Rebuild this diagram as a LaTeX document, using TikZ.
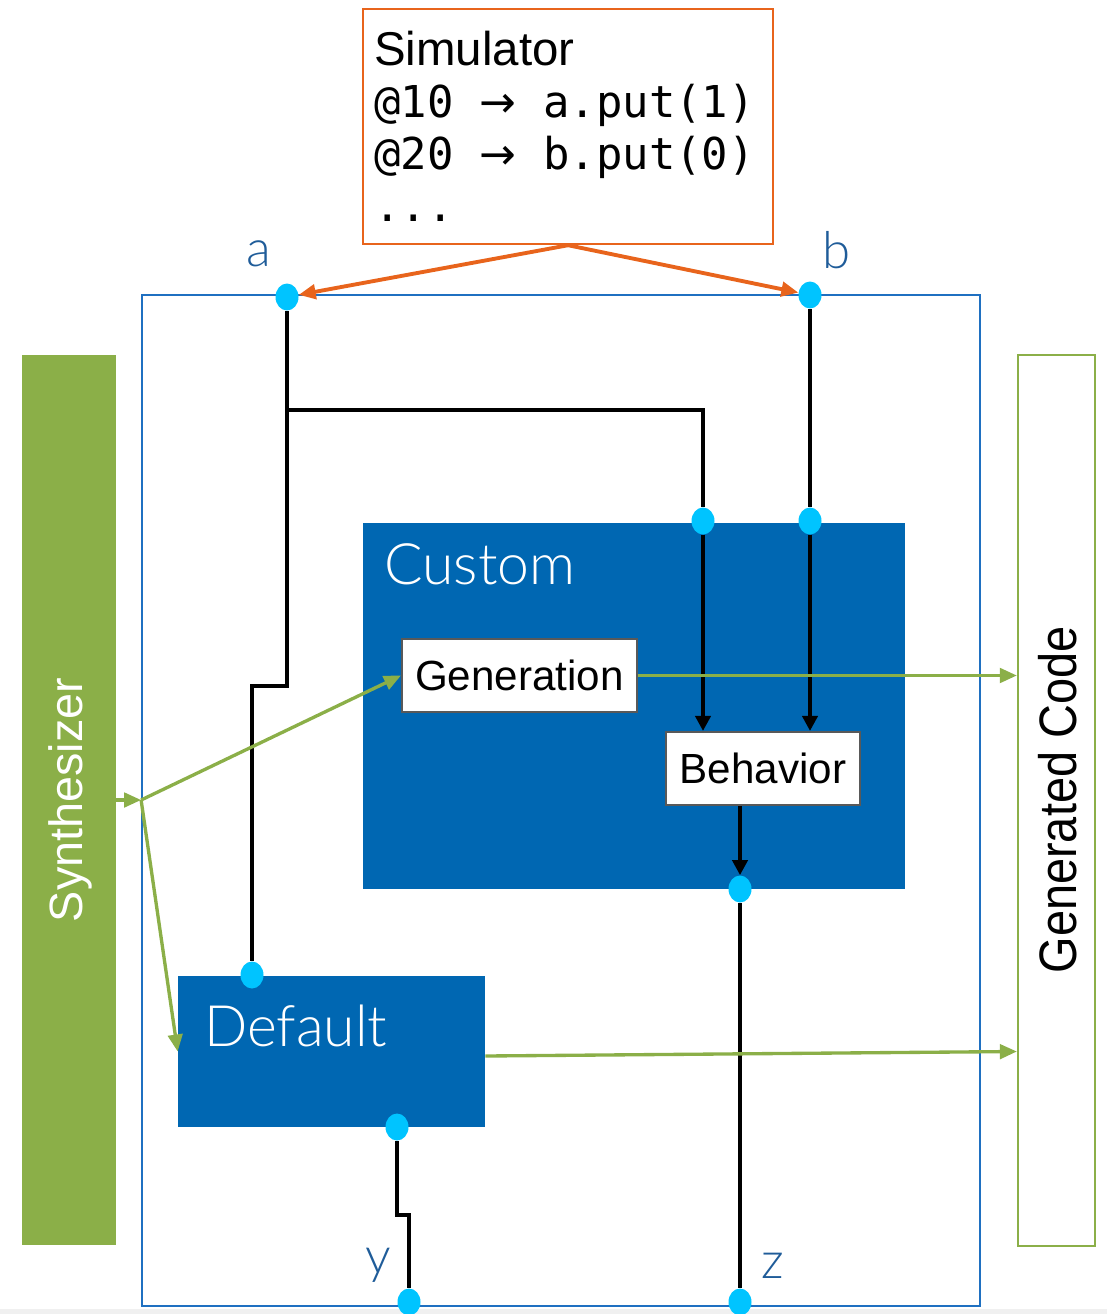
\documentclass[tikz,border=0pt]{standalone}
\usepackage{fontspec}
\setmainfont{Liberation Sans}
\setmonofont{DejaVu Sans Mono}
\newfontfamily\thinfont{Lato Light}
\newfontfamily\arrowfont{DejaVu Sans}
\usetikzlibrary{shapes.geometric, arrows.meta}
\definecolor{simorange}{HTML}{E8641C}
\definecolor{frameblue}{HTML}{1F70C1}
\definecolor{blkblue}{HTML}{0067B2}
\definecolor{portcyan}{HTML}{00C4FF}
\definecolor{synthgreen}{HTML}{8BAF48}
\definecolor{sigblue}{HTML}{1F5C99}
\newcommand\msp{\hspace*{0.53cm}}
\newcommand\thento{\msp{\arrowfont →}\msp}
\pgfdeclarelayer{back}
\pgfdeclarelayer{mid}
\pgfsetlayers{back,mid,main}
\tikzset{
    port/.style={ellipse, fill=portcyan, inner sep=0pt, minimum width=4.6mm, minimum height=5.4mm},
    blk/.style={fill=blkblue, inner sep=0pt}, % custom and default blocks
    blklbl/.style={text=white, inner sep=0pt, font=\thinfont\fontsize{32.5}{36}\selectfont},
    sub/.style={draw=black!65, line width=1.2pt, fill=white, inner sep=0pt, minimum height=1.46cm, font=\fontsize{24}{28}\selectfont},
    side/.style={minimum width=1.88cm, minimum height=17.8cm, inner sep=0pt},
    sig/.style={text=sigblue, inner sep=0pt, font=\thinfont\fontsize{29}{32}\selectfont},
    w/.style={line width=2.6pt, black},
    wa/.style={style=w, -{Triangle[length=3mm, width=3mm]}},
    g/.style={line width=1.9pt, synthgreen, -{Triangle[length=3.4mm, width=2.9mm]}},
    o/.style={line width=2.2pt, simorange, -{Triangle[length=3.4mm, width=2.9mm]}}
}

\begin{document}
\begin{tikzpicture}[x=0.02cm, y=-0.02cm]
        \useasboundingbox (0,0) rectangle (1107,1314);

        \begin{pgfonlayer}{back}
        \fill[black!6] (0,1309) rectangle (1107,1314);
        \node[draw=simorange, line width=1.3pt, anchor=north west, minimum width=8.2cm, minimum height=4.7cm,
              inner xsep=0.22cm, text width=7.76cm, align=left, font=\ttfamily\fontsize{25}{29.6}\selectfont] (sim) at (362,8)
        {{\rmfamily\fontsize{27}{29.6}\selectfont Simulator}\\@10\thento a.put(1)\\@20\thento b.put(0)\\...};
        \node[draw=frameblue, line width=1.1pt, minimum width=16.76cm, minimum height=20.22cm] (frame) at (561,800.5)
        {};
        \node[side, fill=synthgreen] (synth) at (69,800)
        {};
        \node[side, draw=synthgreen, line width=1.3pt, minimum width=1.54cm, minimum height=17.82cm] (gencode) at (1056.5,800.5)
        {};
        \node[blk, minimum width=10.84cm, minimum height=7.32cm] (custom) at (634,706)
        {};
        \node[blk, minimum width=6.14cm, minimum height=3.02cm] (default) at (331.5,1051.5)
        {};
        \end{pgfonlayer}

        \node[rotate=90, text=white, font=\fontsize{26.6}{30}\selectfont] (synthlbl) at (70,800)
        {Synthesizer};
        \node[rotate=90, font=\fontsize{30}{34}\selectfont] (gencodelbl) at (1058,800)
        {\scalebox{0.89}[1]{Generated Code}};
        \node[blklbl, anchor=base west] (customlbl) at (384,584)
        {Custom};
        \node[blklbl, anchor=base west] (defaultlbl) at (204,1046)
        {Default};
        \node[sub, minimum width=4.7cm] (generation) at (519.5,675.5)
        {Generation};
        \node[sub, minimum width=3.88cm] (behavior) at (763,768.5)
        {Behavior};

        \node[port] (pa) at (287,297) {};
        \node[port] (pb) at (810,295) {};
        \node[port] (pc1) at (703,521) {};
        \node[port] (pc2) at (810,521) {};
        \node[port] (pz1) at (740,889) {};
        \node[port] (pd1) at (252,975) {};
        \node[port] (pd2) at (397,1127) {};
        \node[port] (py) at (409,1302) {};
        \node[port] (pz) at (740,1302) {};

        \node[sig] (la) at (259,254) {a};
        \node[sig] (lb) at (837,250) {b};
        \node[sig] (ly) at (378,1265) {y};
        \node[sig] (lz) at (773,1266) {z};

        \coordinate (asplit) at (287,410);
        \coordinate (ajog) at (287,686);
        \coordinate (yjog) at (397,1215);
        \coordinate (fork) at (frame.west |- synth.east);

        \begin{pgfonlayer}{mid}
        \draw[w] (pa) -- (ajog) -| (pd1);
        \draw[w] (asplit) -| (pc1);
        \draw[w] (pb) -- (pc2);
        \draw[wa] (pc1) -- (pc1 |- behavior.north);
        \draw[wa] (pc2) -- (pc2 |- behavior.north);
        \draw[wa] (pz1 |- behavior.south) -- (pz1);
        \draw[w] (pz1) -- (pz);
        \draw[w] (pd2) -- (yjog) -| (py);

        \draw[g] (synth.east) -- (fork);
        \draw[g] (fork) -- (generation.west);
        \draw[g] (fork) -- (default.west);
        \draw[g] (generation.east) -- (generation.east -| gencode.west);
        \draw[g] (default.east) ++(0,4.5) -- (default.east -| gencode.west);

        \draw[o] (sim.south) -- (pa);
        \draw[o] (sim.south) -- (pb);
        \end{pgfonlayer}
\end{tikzpicture}
\end{document}
